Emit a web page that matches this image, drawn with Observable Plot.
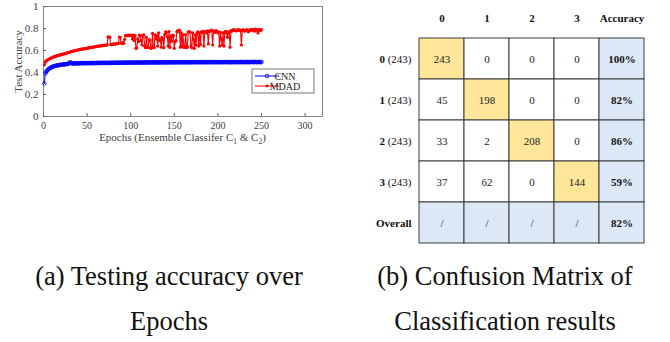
<!DOCTYPE html>
<html>
<head>
<meta charset="utf-8">
<script src="https://cdn.jsdelivr.net/npm/d3@7"></script>
<script src="https://cdn.jsdelivr.net/npm/@observablehq/plot@0.6"></script>
<style>
  html, body { margin: 0; padding: 0; background: #fff; }
  #wrap { position: relative; width: 670px; height: 342px; overflow: hidden; background: #fff; }
  #lineChart { position: absolute; left: 0; top: 0; }
  #matrix { position: absolute; left: 360px; top: 0; }
  .cap { position: absolute; width: 330px; text-align: center; font-family: 'Liberation Serif', serif;
         font-size: 26.5px; color: #111; line-height: 45px; }
</style>
</head>
<body>
<div id="wrap">
  <div id="lineChart"></div>
  <div id="matrix"></div>
  <div class="cap" style="left:4px; top:254px;">(a) Testing accuracy over<br>Epochs</div>
  <div class="cap" style="left:340px; top:254px;">(b) Confusion Matrix of<br>Classification results</div>
</div>
<script>
// ---------------- Data: (a) test accuracy per epoch ----------------
const xTicks = [0, 50, 100, 150, 200, 250, 300];
const yTicks = [0, 0.2, 0.4, 0.6, 0.8, 1];
const seriesNames = ["CNN", "MDAD"];

const cnnAcc = [
  0.300,0.390,0.405,0.415,0.425,0.432,0.438,0.443,0.447,0.451,
  0.454,0.457,0.459,0.461,0.463,0.465,0.466,0.468,0.469,0.470,
  0.471,0.472,0.474,0.474,0.476,0.476,0.477,0.478,0.482,0.490,
  0.493,0.486,0.481,0.482,0.483,0.481,0.484,0.482,0.483,0.485,
  0.484,0.483,0.485,0.486,0.484,0.485,0.486,0.484,0.485,0.486,
  0.485,0.486,0.484,0.486,0.487,0.485,0.486,0.487,0.486,0.485,
  0.487,0.486,0.488,0.486,0.487,0.488,0.486,0.487,0.488,0.487,
  0.488,0.487,0.486,0.488,0.487,0.489,0.487,0.488,0.489,0.487,
  0.488,0.489,0.488,0.487,0.489,0.488,0.489,0.490,0.488,0.489,
  0.490,0.489,0.488,0.490,0.489,0.490,0.491,0.489,0.490,0.491,
  0.490,0.489,0.491,0.490,0.491,0.490,0.492,0.490,0.491,0.490,
  0.491,0.492,0.490,0.491,0.492,0.491,0.490,0.492,0.491,0.492,
  0.491,0.492,0.493,0.491,0.492,0.491,0.493,0.492,0.491,0.492,
  0.493,0.492,0.491,0.493,0.492,0.493,0.492,0.491,0.493,0.492,
  0.493,0.492,0.493,0.494,0.492,0.493,0.492,0.494,0.493,0.492,
  0.493,0.494,0.492,0.493,0.494,0.493,0.492,0.494,0.493,0.494,
  0.493,0.492,0.494,0.493,0.494,0.493,0.494,0.492,0.493,0.494,
  0.493,0.494,0.495,0.493,0.494,0.493,0.494,0.495,0.493,0.494,
  0.494,0.493,0.495,0.494,0.493,0.494,0.495,0.494,0.493,0.494,
  0.495,0.494,0.493,0.495,0.494,0.495,0.494,0.493,0.495,0.494,
  0.494,0.495,0.494,0.493,0.495,0.494,0.495,0.494,0.495,0.494,
  0.495,0.494,0.495,0.494,0.493,0.495,0.494,0.495,0.494,0.495,
  0.494,0.495,0.494,0.495,0.494,0.495,0.496,0.494,0.495,0.494,
  0.495,0.494,0.495,0.496,0.494,0.495,0.494,0.495,0.496,0.495,
  0.494,0.495,0.496,0.495,0.494,0.495,0.496,0.495,0.494,0.495
];

const mdadAcc = [
  0.470,0.495,0.505,0.510,0.515,0.520,0.525,0.528,0.533,0.536,
  0.540,0.542,0.548,0.545,0.552,0.555,0.553,0.558,0.562,0.560,
  0.565,0.568,0.566,0.572,0.575,0.573,0.578,0.580,0.582,0.585,
  0.588,0.590,0.592,0.594,0.596,0.598,0.600,0.602,0.604,0.605,
  0.607,0.610,0.612,0.611,0.614,0.616,0.615,0.618,0.620,0.622,
  0.621,0.624,0.626,0.625,0.628,0.630,0.632,0.631,0.634,0.636,
  0.638,0.637,0.640,0.642,0.641,0.643,0.645,0.644,0.646,0.648,
  0.647,0.650,0.651,0.722,0.725,0.720,0.655,0.652,0.656,0.658,
  0.660,0.657,0.662,0.664,0.661,0.665,0.722,0.720,0.668,0.663,
  0.672,0.665,0.700,0.735,0.738,0.733,0.736,0.740,0.734,0.737,
  0.739,0.705,0.741,0.690,0.735,0.620,0.622,0.705,0.680,0.740,
  0.735,0.690,0.650,0.738,0.742,0.640,0.625,0.720,0.630,0.628,
  0.700,0.695,0.620,0.622,0.755,0.640,0.625,0.742,0.705,0.735,
  0.640,0.760,0.690,0.698,0.630,0.720,0.700,0.625,0.745,0.770,
  0.765,0.725,0.640,0.772,0.628,0.730,0.685,0.740,0.735,0.620,
  0.680,0.690,0.770,0.782,0.775,0.785,0.630,0.760,0.640,0.742,
  0.628,0.632,0.745,0.625,0.630,0.770,0.772,0.768,0.640,0.625,
  0.760,0.700,0.620,0.742,0.650,0.755,0.770,0.640,0.760,0.655,
  0.770,0.765,0.775,0.640,0.772,0.770,0.760,0.778,0.660,0.776,
  0.775,0.780,0.785,0.650,0.778,0.770,0.765,0.780,0.775,0.760,
  0.770,0.640,0.765,0.700,0.650,0.760,0.640,0.770,0.775,0.760,
  0.720,0.770,0.765,0.630,0.780,0.775,0.785,0.790,0.780,0.785,
  0.778,0.785,0.790,0.782,0.788,0.780,0.650,0.785,0.790,0.780,
  0.775,0.782,0.790,0.785,0.770,0.786,0.780,0.792,0.785,0.790,
  0.788,0.775,0.795,0.785,0.790,0.760,0.788,0.792,0.780,0.790
];

// ---------------- Data: (b) confusion matrix ----------------
const classLabels = ["0", "1", "2", "3"];
const classCounts = [243, 243, 243, 243];
const confusion = [
  [243, 0, 0, 0],
  [45, 198, 0, 0],
  [33, 2, 208, 0],
  [37, 62, 0, 144]
];
const classAccuracy = ["100%", "82%", "86%", "59%"];
const overallAccuracy = "82%";
const accHeader = "Accuracy";
const overallLabel = "Overall";

const FONT = "'Liberation Serif', serif";

// ---------------- (a) line chart ----------------
const cnn = cnnAcc.map((v, i) => ({epoch: i + 1, acc: v}));
const mdad = mdadAcc.map((v, i) => ({epoch: i + 1, acc: v}));
const BLUE = "#0000ff", RED = "#ff0000", AX = "#404040";

const line = Plot.plot({
  width: 330, height: 150,
  marginLeft: 43, marginRight: 8, marginTop: 6, marginBottom: 34,
  style: {fontFamily: FONT, fontSize: "10px", color: AX, background: "transparent"},
  x: {domain: [0, 320], axis: null},
  y: {domain: [0, 1], axis: null},
  marks: [
    Plot.frame({stroke: "#666", strokeWidth: 0.8}),
    Plot.axisX(xTicks, {tickSize: -3, text: null, stroke: "#666", label: null}),
    Plot.axisX(xTicks, {tickSize: 0, tickPadding: 5, label: null, fill: AX, tickFormat: d => String(d)}),
    Plot.axisY(yTicks, {tickSize: -3, text: null, stroke: "#666", label: null}),
    Plot.axisY(yTicks, {tickSize: 0, tickPadding: 5, tickFormat: d => String(d), label: "Test Accuracy", labelAnchor: "center", labelArrow: "none", labelOffset: 29, fill: AX, fontSize: 11}),
    Plot.line(cnn, {x: "epoch", y: "acc", stroke: BLUE, strokeWidth: 1}),
    Plot.dot(cnn, {x: "epoch", y: "acc", r: 1.8, stroke: BLUE, fill: "none", strokeWidth: 0.8}),
    Plot.line(mdad, {x: "epoch", y: "acc", stroke: RED, strokeWidth: 1.1}),
    Plot.dot(mdad, {x: "epoch", y: "acc", r: 1.6, fill: RED})
  ]
});
document.getElementById("lineChart").appendChild(line);

// x-axis label with subscripts, and legend
{
  const sx = line.scale("x"), sy = line.scale("y");
  const svg = d3.select(line);
  const cx = (sx.range[0] + sx.range[1]) / 2;
  const t = svg.append("text")
    .attr("x", cx).attr("y", sy.range[0] + 25)
    .attr("text-anchor", "middle")
    .attr("font-family", FONT)
    .attr("font-size", 11).attr("fill", AX);
  t.append("tspan").text("Epochs (Ensemble Classifer C");
  t.append("tspan").attr("font-size", 7.5).attr("dy", 3).text("1");
  t.append("tspan").attr("dy", -3).text(" & C");
  t.append("tspan").attr("font-size", 7.5).attr("dy", 3).text("2");
  t.append("tspan").attr("dy", -3).text(")");

  const lx = sx.range[1] - 70, ly = 69;
  const g = svg.append("g").attr("font-family", FONT).attr("font-size", 10).attr("fill", "#222");
  g.append("rect").attr("x", lx).attr("y", ly).attr("width", 62).attr("height", 24).attr("fill", "#fff").attr("stroke", "#555").attr("stroke-width", 0.8);
  const colors = [BLUE, RED];
  seriesNames.forEach((name, i) => {
    const yy = ly + 7 + i * 10;
    g.append("line").attr("x1", lx + 3).attr("x2", lx + 27).attr("y1", yy).attr("y2", yy).attr("stroke", colors[i]).attr("stroke-width", 1);
    if (i === 0) g.append("circle").attr("cx", lx + 15).attr("cy", yy).attr("r", 1.8).attr("fill", "none").attr("stroke", BLUE).attr("stroke-width", 0.8);
    else g.append("circle").attr("cx", lx + 15).attr("cy", yy).attr("r", 1.4).attr("fill", RED);
    g.append("text").attr("x", lx + 33).attr("y", yy).attr("dy", "0.35em").text(name);
  });
}

// ---------------- (b) confusion matrix ----------------
const rowKeys = [...classLabels, overallLabel];
const colKeys = [...classLabels, accHeader];
const YELLOW = "#ffe699", LBLUE = "#dde8f6";
const cells = [];
rowKeys.forEach((r, i) => {
  colKeys.forEach((c, j) => {
    let text, fill, bold = false;
    if (i < 4 && j < 4) { text = String(confusion[i][j]); fill = i === j ? YELLOW : "#ffffff"; }
    else if (i < 4 && j === 4) { text = classAccuracy[i]; fill = LBLUE; bold = true; }
    else if (i === 4 && j < 4) { text = "/"; fill = LBLUE; }
    else { text = overallAccuracy; fill = LBLUE; bold = true; }
    cells.push({row: r, col: c, text, fill, bold});
  });
});

const rowLabel = r => r === overallLabel ? r : `${r} (${classCounts[classLabels.indexOf(r)]})`;

const mat = Plot.plot({
  width: 310, height: 250,
  marginLeft: 57, marginRight: 25, marginTop: 36, marginBottom: 6,
  style: {fontFamily: FONT, fontSize: "11px", color: "#222", background: "transparent"},
  x: {domain: colKeys, padding: 0, axis: null},
  y: {domain: rowKeys, padding: 0, axis: null},
  color: {type: "identity"},
  marks: [
    Plot.cell(cells, {x: "col", y: "row", fill: "fill", stroke: "#3c3c3c", strokeWidth: 1}),
    Plot.text(cells.filter(d => !d.bold), {x: "col", y: "row", text: "text", fill: "#222"}),
    Plot.text(cells.filter(d => d.bold), {x: "col", y: "row", text: "text", fill: "#111", fontWeight: "bold"}),
    Plot.axisX({anchor: "top", tickSize: 0, tickPadding: 15, fontWeight: "bold", fill: "#111", label: null}),
    Plot.axisY({anchor: "left", tickSize: 0, tickPadding: 6, tickFormat: rowLabel, fill: "#111", label: null})
  ]
});
document.getElementById("matrix").appendChild(mat);

// rich row labels: bold class digit followed by normal "(count)"
d3.select(mat).selectAll('g[aria-label="y-axis tick label"] text').each(function() {
  const el = d3.select(this);
  const s = el.text();
  el.text(null);
  if (s === overallLabel) { el.append("tspan").attr("font-weight", "bold").text(s); return; }
  const k = s.indexOf(" ");
  el.append("tspan").attr("font-weight", "bold").text(s.slice(0, k));
  el.append("tspan").attr("font-weight", "normal").text(s.slice(k));
});
</script>
</body>
</html>
